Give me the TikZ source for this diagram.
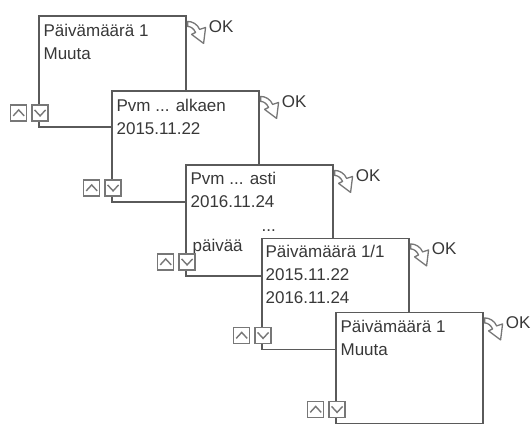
\documentclass[tikz,border=0pt]{standalone}
\usepackage{fontspec}
\setmainfont{Liberation Sans}
\usetikzlibrary{positioning}

\definecolor{framegray}{HTML}{5A5A5A}
\definecolor{textgray}{HTML}{383838}
\definecolor{keygray}{HTML}{777777}

\tikzset{
    screen/.style={rectangle, draw=framegray, fill=white, line width=1.2pt,
        minimum width=147pt, minimum height=111pt, inner sep=0pt},
    screentext/.style={anchor=north west, inner sep=0pt, align=left, text=textgray,
        font=\fontsize{17}{23}\selectfont},
    key/.style={rectangle, draw=keygray, fill=white, line width=1.4pt,
        minimum size=16pt, inner sep=0pt},
    oktext/.style={anchor=base west, inner sep=0pt, text=textgray,
        font=\fontsize{17}{20}\selectfont}
}

\begin{document}
\begin{tikzpicture}[x=1pt, y=-1pt, on grid]
    \useasboundingbox (0,0) rectangle (531,432);

    % the five screens, each one further down and to the right
    \node[screen] (s1) at (112.5,71.5) {};
    \node[screen, below right=75pt and 73pt of s1] (s2) {};
    \node[screen, below right=74pt and 74pt of s2] (s3) {};
    \node[screen, below right=73.5pt and 76pt of s3] (s4) {};
    \node[screen, below right=74pt and 74pt of s4] (s5) {};

    \node[screentext, below right=8.5pt and 5pt of s1.north west] (t1) {Päivämäärä 1\\Muuta};
    \node[screentext, below right=8.5pt and 5pt of s2.north west] (t2) {Pvm ... alkaen\\2015.11.22};
    \node[screentext, below right=8pt and 5pt of s3.north west] (t3) {Pvm ... asti\\2016.11.24};
    \node[oktext] (t3dots) at ([xshift=76pt,yshift=-67pt]s3.north west) {...};
    \node[oktext] (t3days) at ([xshift=7pt,yshift=-87pt]s3.north west) {päivää};
    \node[screentext, below right=7pt and 4pt of s4.north west] (t4) {Päivämäärä 1/1\\2015.11.22\\2016.11.24};
    \node[screentext, below right=8.5pt and 5pt of s5.north west] (t5) {Päivämäärä 1\\Muuta};

    % up/down keys and the OK sign of every screen
    \foreach \sc in {s1,s2,s3,s4,s5} {
        \node[key, anchor=south east] (\sc-up) at ([xshift=-11pt,yshift=6pt]\sc.south west) {};
        \node[key, anchor=south west] (\sc-dn) at ([xshift=-7pt,yshift=6pt]\sc.south west) {};
        \draw[keygray, line width=1.4pt] ([shift={(-5.5pt,-3pt)}]\sc-up.center)
            -- ([shift={(0pt,3pt)}]\sc-up.center) -- ([shift={(5.5pt,-3pt)}]\sc-up.center);
        \draw[keygray, line width=1.4pt] ([shift={(-5.5pt,3pt)}]\sc-dn.center)
            -- ([shift={(0pt,-3pt)}]\sc-dn.center) -- ([shift={(5.5pt,3pt)}]\sc-dn.center);
        \draw[shift={(\sc.north east)}, draw=keygray, fill=white, line width=1.3pt, line join=round]
            (1,6) .. controls (6,6) and (11,9) .. (13,14) -- (19,12) -- (17,28)
            -- (5,19) -- (9,17) .. controls (7,13) and (4,11) .. (1,11) -- cycle;
        \node[oktext] (\sc-ok) at ([xshift=22pt,yshift=-17pt]\sc.north east) {OK};
    }
\end{tikzpicture}
\end{document}
